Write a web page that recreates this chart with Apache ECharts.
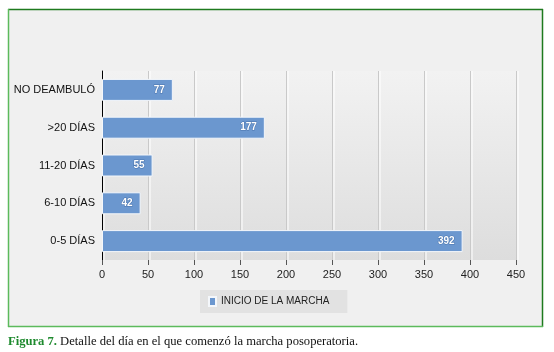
<!DOCTYPE html>
<html>
<head>
<meta charset="utf-8">
<script src="https://cdn.jsdelivr.net/npm/echarts@6/dist/echarts.min.js"></script>
<style>
html,body{margin:0;padding:0;background:#fff;}
#c{width:554px;height:352px;}
</style>
</head>
<body>
<div id="c"></div>
<script>
const categories = ['0-5 DÍAS', '6-10 DÍAS', '11-20 DÍAS', '>20 DÍAS', 'NO DEAMBULÓ'];
const values = [392, 42, 55, 177, 77];
const seriesName = 'INICIO DE LA MARCHA';
const xMin = 0, xMax = 450, xStep = 50;
const captionLead = 'Figura 7.';
const captionText = ' Detalle del día en el que comenzó la marcha posoperatoria.';

const chart = echarts.init(document.getElementById('c'), null, {renderer: 'canvas'});
chart.setOption({
  backgroundColor: '#ffffff',
  animation: false,
  graphic: [
    {type: 'rect', z: -10, shape: {x: 8.5, y: 9.5, width: 534, height: 317},
     style: {fill: '#f0f0f0', stroke: null}},
    {type: 'line', z: 10, shape: {x1: 8, y1: 9.5, x2: 543, y2: 9.5}, style: {stroke: '#1e7a1e', lineWidth: 1.5}},
    {type: 'line', z: 10, shape: {x1: 542.5, y1: 9, x2: 542.5, y2: 327}, style: {stroke: '#1e7a1e', lineWidth: 1.5}},
    {type: 'line', z: 10, shape: {x1: 8.5, y1: 9, x2: 8.5, y2: 327}, style: {stroke: '#5cba5c', lineWidth: 1.5}},
    {type: 'line', z: 10, shape: {x1: 8, y1: 326.5, x2: 543, y2: 326.5}, style: {stroke: '#5cba5c', lineWidth: 1.5}}
  ],
  title: {
    left: 3, top: 330,
    text: '{a|' + captionLead + '}{b|' + captionText + '}',
    textStyle: {
      fontWeight: 'normal',
      rich: {
        a: {fontFamily: 'Liberation Serif', fontSize: 12.6, fontWeight: 'bold', color: '#1e8a2e'},
        b: {fontFamily: 'Liberation Serif', fontSize: 12.6, fontWeight: 'normal', color: '#111'}
      }
    }
  },
  legend: {
    left: 200, top: 290,
    backgroundColor: '#e2e2e2',
    padding: [6, 18, 6, 8],
    itemWidth: 7, itemHeight: 9, itemGap: 5,
    icon: 'rect',
    textStyle: {fontFamily: 'Liberation Sans', fontSize: 10, color: '#222'},
    data: [seriesName]
  },
  grid: {
    left: 102, right: 38, top: 71, bottom: 92,
    show: true, borderWidth: 0,
    backgroundColor: {
      type: 'linear', x: 0, y: 0, x2: 0, y2: 1,
      colorStops: [{offset: 0, color: '#f2f2f2'}, {offset: 1, color: '#dddddd'}]
    }
  },
  xAxis: {
    type: 'value', min: xMin, max: xMax, interval: xStep,
    axisLine: {show: false},
    axisTick: {show: true, length: 5, lineStyle: {color: '#555'}},
    axisLabel: {fontFamily: 'Liberation Sans', fontSize: 11, color: '#222', margin: 9},
    splitLine: {show: true, lineStyle: {color: '#c9c9c9', width: 1, shadowColor: '#ffffff', shadowOffsetX: 1.5}}
  },
  yAxis: {
    type: 'category', data: categories,
    axisLine: {show: true, lineStyle: {color: '#000', width: 1}},
    axisTick: {show: false},
    axisLabel: {fontFamily: 'Liberation Sans', fontSize: 11, color: '#111', margin: 7}
  },
  series: [{
    name: seriesName, type: 'bar', data: values,
    barWidth: 22,
    itemStyle: {color: '#6b97cf', borderColor: '#f4f7fb', borderWidth: 1},
    label: {
      show: true, position: 'insideRight', distance: 8,
      color: '#ffffff', fontFamily: 'Liberation Sans', fontSize: 10, fontWeight: 'bold',
      textBorderColor: '#4a74ad', textBorderWidth: 1
    }
  }]
});
</script>
</body>
</html>
